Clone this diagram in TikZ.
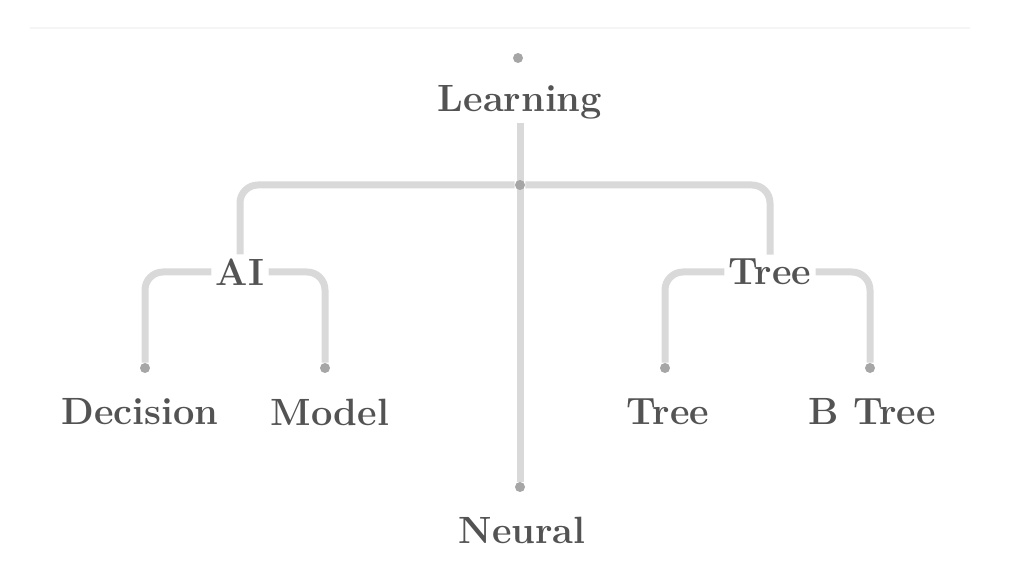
\documentclass[tikz,border=0pt]{standalone}
\usepackage{tikz}
\usetikzlibrary{backgrounds}

\begin{document}
\begin{tikzpicture}[x=0.5pt,y=-0.5pt,
    dot/.style={circle,fill=gray!70,inner sep=0pt,minimum size=5pt},
    lbl/.style={font=\bfseries\fontsize{19}{22}\selectfont,text=gray!65!black,inner sep=2pt},
    link/.style={draw=gray!30,line width=3.5pt,rounded corners=9pt}]
  \useasboundingbox (0,0) rectangle (1024,576);
  % root
  \node[dot] (rd) at (518,58) {};
  \node[lbl] (r) at (520,102) {Learning};
  \node[dot] (h) at (520,185) {};
  % middle level
  \node[lbl] (a) at (240,272) {AI};
  \node[lbl] (t) at (770,272) {Tree};
  % leaves
  \node[dot] (d1) at (145,368) {};
  \node[lbl] (l1) at (140,412) {Decision};
  \node[dot] (d2) at (325,368) {};
  \node[lbl] (l2) at (330,412) {Model};
  \node[dot] (d3) at (665,368) {};
  \node[lbl] (l3) at (668,412) {Tree};
  \node[dot] (d4) at (870,368) {};
  \node[lbl] (l4) at (872,412) {B Tree};
  \node[dot] (d5) at (520,487) {};
  \node[lbl] (l5) at (522,530) {Neural};
  \coordinate (ta) at (30,28);
  \coordinate (tb) at (970,28);
  \begin{scope}[on background layer]
    \draw[gray!8,line width=1pt] (ta) -- (tb);
    \draw[link] (r.south) -- (d5);
    \draw[link] (a.north) |- (h) -| (t.north);
    \draw[link] (d1) |- (a.west);
    \draw[link] (a.east) -| (d2);
    \draw[link] (d3) |- (t.west);
    \draw[link] (t.east) -| (d4);
  \end{scope}
\end{tikzpicture}
\end{document}
